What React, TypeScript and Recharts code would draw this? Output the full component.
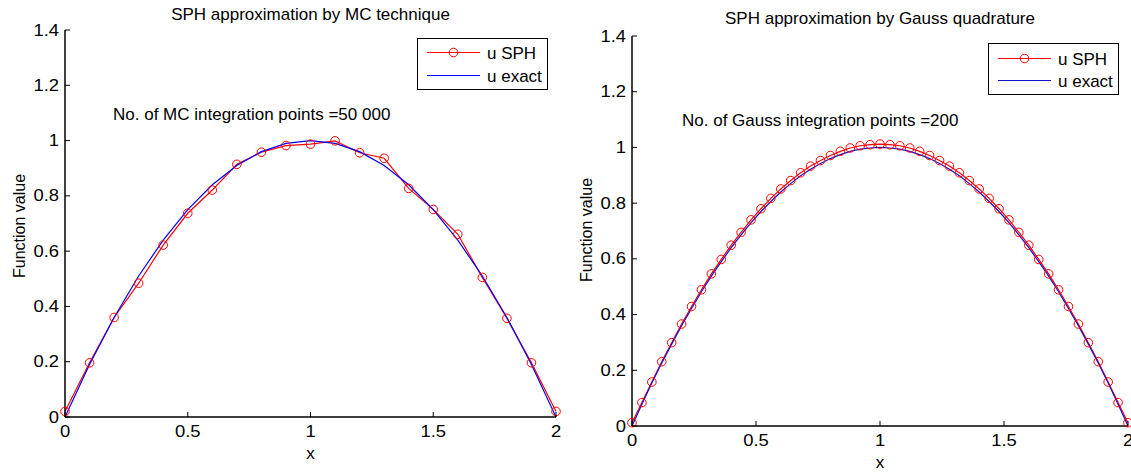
import { Legend, Line, LineChart, XAxis, YAxis } from "recharts"

const seriesNames = ["u SPH", "u exact"]
const xTicks = [0, 0.5, 1, 1.5, 2]
const yTicks = [0, 0.2, 0.4, 0.6, 0.8, 1, 1.2, 1.4]

// MC technique panel
const mcX = [0, 0.1, 0.2, 0.3, 0.4, 0.5, 0.6, 0.7, 0.8, 0.9, 1, 1.1, 1.2, 1.3, 1.4, 1.5, 1.6, 1.7, 1.8, 1.9, 2]
const mcSph = [0.02, 0.196, 0.36, 0.484, 0.622, 0.737, 0.821, 0.914, 0.958, 0.982, 0.987, 0.999, 0.956, 0.936, 0.827, 0.751, 0.661, 0.505, 0.357, 0.196, 0.02]
const mcExact = [0, 0.19, 0.36, 0.51, 0.64, 0.75, 0.84, 0.91, 0.96, 0.99, 1, 0.99, 0.96, 0.91, 0.84, 0.75, 0.64, 0.51, 0.36, 0.19, 0]

// Gauss quadrature panel
const gaussX = [0, 0.04, 0.08, 0.12, 0.16, 0.2, 0.24, 0.28, 0.32, 0.36, 0.4, 0.44, 0.48, 0.52, 0.56, 0.6, 0.64, 0.68, 0.72, 0.76, 0.8, 0.84, 0.88, 0.92, 0.96, 1,
  1.04, 1.08, 1.12, 1.16, 1.2, 1.24, 1.28, 1.32, 1.36, 1.4, 1.44, 1.48, 1.52, 1.56, 1.6, 1.64, 1.68, 1.72, 1.76, 1.8, 1.84, 1.88, 1.92, 1.96, 2]
const gaussSph = [0.012, 0.084, 0.158, 0.231, 0.299, 0.366, 0.429, 0.489, 0.546, 0.598, 0.649, 0.695, 0.74, 0.78, 0.817, 0.851, 0.881, 0.909, 0.933, 0.953, 0.971, 0.986, 0.998, 1.006, 1.01, 1.012,
  1.01, 1.006, 0.998, 0.986, 0.971, 0.953, 0.933, 0.909, 0.881, 0.851, 0.817, 0.78, 0.74, 0.695, 0.649, 0.598, 0.546, 0.489, 0.429, 0.366, 0.299, 0.231, 0.158, 0.084, 0.012]
const gaussExact = [0, 0.078, 0.154, 0.226, 0.294, 0.36, 0.422, 0.482, 0.538, 0.59, 0.64, 0.686, 0.73, 0.77, 0.806, 0.84, 0.87, 0.898, 0.922, 0.942, 0.96, 0.974, 0.986, 0.994, 0.998, 1,
  0.998, 0.994, 0.986, 0.974, 0.96, 0.942, 0.922, 0.898, 0.87, 0.84, 0.806, 0.77, 0.73, 0.686, 0.64, 0.59, 0.538, 0.482, 0.422, 0.36, 0.294, 0.226, 0.154, 0.078, 0]

const toRows = (xs: number[], sph: number[], exact: number[]) =>
  xs.map((x, i) => ({ x, sph: sph[i], exact: exact[i] }))

const axisLine = { stroke: "#000", strokeWidth: 1.5 }

function BottomTick({ x, y, payload }: any) {
  return (
    <g>
      <line x1={x} y1={y} x2={x} y2={y - 5} stroke="#000" />
      <text transform={`translate(${x},${y + 20}) scale(1.15,1)`} textAnchor="middle" fontSize={16} fill="#000">
        {payload.value}
      </text>
    </g>
  )
}

function LeftTick({ x, y, payload }: any) {
  return (
    <g>
      <line x1={x} y1={y} x2={x + 5} y2={y} stroke="#000" />
      <text transform={`translate(${x - 6},${y + 5.5}) scale(1.15,1)`} textAnchor="end" fontSize={16} fill="#000">
        {payload.value}
      </text>
    </g>
  )
}

function TopTick({ x, y }: any) {
  return <line x1={x} y1={y} x2={x} y2={y + 5} stroke="#000" />
}

function RightTick({ x, y }: any) {
  return <line x1={x} y1={y} x2={x - 5} y2={y} stroke="#000" />
}

function LegendBox({ exactColor, rows }: { exactColor: string; rows: number[] }) {
  return (
    <svg width={132} height={53} style={{ display: "block", fontFamily: "'Liberation Sans', Arial, sans-serif" }}>
      <rect x={0.5} y={0.5} width={130} height={51} fill="#fff" stroke="#000" />
      <line x1={10} x2={63} y1={rows[0]} y2={rows[0]} stroke="#ff0000" strokeWidth={1.2} />
      <circle cx={36.5} cy={rows[0]} r={4.3} fill="none" stroke="#ff0000" />
      <text x={70} y={rows[0] + 6} fontSize={17} fill="#000">{seriesNames[0]}</text>
      <line x1={10} x2={63} y1={rows[1]} y2={rows[1]} stroke={exactColor} strokeWidth={1.2} />
      <text x={70} y={rows[1] + 6} fontSize={17} fill="#000">{seriesNames[1]}</text>
    </svg>
  )
}

function Panel(p: any) {
  const H = 475
  const xAxisH = H - p.bottom - 8
  return (
    <div style={{ position: "absolute", left: p.left, top: 0 }}>
      <LineChart
        width={p.width}
        height={H}
        data={p.rows}
        margin={{ top: p.top, right: p.width - p.right, bottom: 8, left: 0 }}
      >
        <XAxis xAxisId="b" dataKey="x" type="number" domain={[0, 2]} ticks={xTicks} interval={0}
          height={xAxisH} tickSize={0} tickMargin={0} axisLine={axisLine} tickLine={false} tick={<BottomTick />} />
        <XAxis xAxisId="t" orientation="top" dataKey="x" type="number" domain={[0, 2]} ticks={xTicks} interval={0}
          allowDataOverflow height={0} tickSize={0} tickMargin={0} axisLine={axisLine} tickLine={false} tick={<TopTick />} />
        <YAxis yAxisId="l" type="number" domain={[0, 1.4]} ticks={yTicks} interval={0}
          width={p.plotLeft} tickSize={0} tickMargin={0} axisLine={axisLine} tickLine={false} tick={<LeftTick />} />
        <YAxis yAxisId="r" orientation="right" type="number" domain={[0, 1.4]} ticks={yTicks} interval={0}
          allowDataOverflow width={0} tickSize={0} tickMargin={0} axisLine={axisLine} tickLine={false} tick={<RightTick />} />
        <Line xAxisId="b" yAxisId="l" type="linear" dataKey="sph" name={seriesNames[0]} stroke="#ff0000" strokeWidth={1.2}
          dot={{ r: 4.3, stroke: "#ff0000", strokeWidth: 1, fill: "none" }} activeDot={false} isAnimationActive={false} />
        <Line xAxisId="b" yAxisId="l" type="linear" dataKey="exact" name={seriesNames[1]} stroke={p.exactColor} strokeWidth={1.2}
          dot={false} activeDot={false} isAnimationActive={false} />
        <Legend layout="vertical" align="center" verticalAlign="middle"
          wrapperStyle={{ left: p.legendLeft, top: p.legendTop, width: 132, height: 53 }}
          content={() => <LegendBox exactColor={p.exactColor} rows={p.legendRows} />} />
        <text x={(p.plotLeft + p.right) / 2} y={p.titleY} textAnchor="middle" fontSize={17} fill="#000">{p.title}</text>
        <text x={p.noteX} y={p.noteY} fontSize={17} fill="#000">{p.note}</text>
        <text transform={`translate(${p.ylabelX},${p.ylabelY}) rotate(-90)`} textAnchor="middle" fontSize={16} fill="#000">Function value</text>
        <text x={(p.plotLeft + p.right) / 2} y={p.xlabelY} textAnchor="middle" fontSize={17} fill="#000">x</text>
      </LineChart>
    </div>
  )
}

export default function App() {
  return (
    <div style={{ position: "absolute", left: 0, top: 0, width: 1131, height: 475, background: "#fff", fontFamily: "'Liberation Sans', Arial, sans-serif" }}>
      <Panel
        left={0} width={570} plotLeft={65} right={556} top={30} bottom={417}
        rows={toRows(mcX, mcSph, mcExact)} exactColor="#0000ff"
        title="SPH approximation by MC technique" titleY={20}
        note="No. of MC integration points =50 000" noteX={113} noteY={120}
        ylabelX={25} ylabelY={226} xlabelY={459}
        legendLeft={417} legendTop={38} legendRows={[14.5, 37.5]}
      />
      <Panel
        left={570} width={561} plotLeft={62} right={558} top={36} bottom={426}
        rows={toRows(gaussX, gaussSph, gaussExact)} exactColor="#1010d0"
        title="SPH approximation by Gauss quadrature" titleY={24}
        note="No. of Gauss integration points =200" noteX={112} noteY={126}
        ylabelX={22} ylabelY={230} xlabelY={468}
        legendLeft={418} legendTop={43} legendRows={[15.5, 37.5]}
      />
    </div>
  )
}
